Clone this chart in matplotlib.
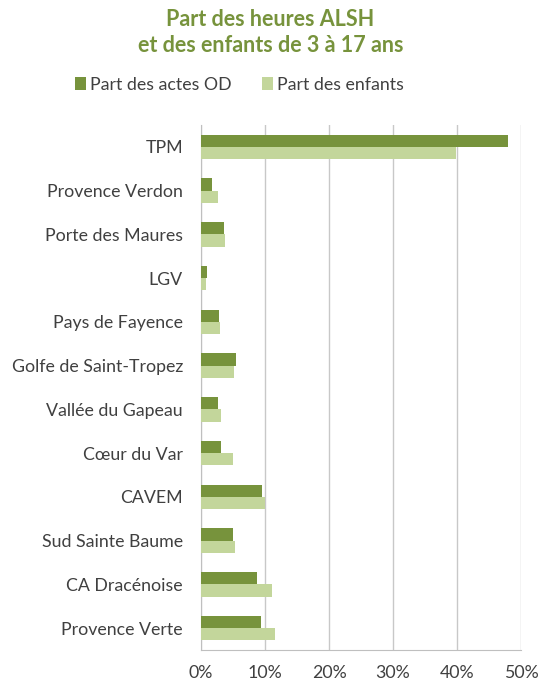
import matplotlib
matplotlib.use("Agg")
import matplotlib.pyplot as plt
import numpy as np

categories = ["TPM", "Provence Verdon", "Porte des Maures", "LGV", "Pays de Fayence",
              "Golfe de Saint-Tropez", "Vallée du Gapeau", "Cœur du Var", "CAVEM",
              "Sud Sainte Baume", "CA Dracénoise", "Provence Verte"]
part_actes = [47.9, 1.7, 3.6, 0.9, 2.8, 5.5, 2.6, 3.2, 9.5, 5.0, 8.75, 9.4]
part_enfants = [39.8, 2.6, 3.8, 0.8, 2.9, 5.1, 3.1, 5.0, 10.0, 5.3, 11.1, 11.5]
xticks = [0, 10, 20, 30, 40, 50]
xticklabels = ["0%", "10%", "20%", "30%", "40%", "50%"]

dark = "#77933C"
light = "#C3D69B"
txt = "#404040"
font = ["Lato", "DejaVu Sans"]
plt.rcParams['font.family'] = font

fig = plt.figure(figsize=(5.41, 6.85), dpi=100)
ax = fig.add_axes([201/541, 1-650/685, 320/541, 525/685])

y = np.arange(len(categories))
h = 0.28
ax.barh(y - h/2, part_actes, height=h, color=dark, label="Part des actes OD", zorder=3)
ax.barh(y + h/2, part_enfants, height=h, color=light, label="Part des enfants", zorder=3)

ax.set_ylim(len(categories) - 0.5, -0.5)
ax.set_xlim(0, 50)
ax.set_xticks(xticks)
ax.set_xticklabels(xticklabels)
ax.set_yticks(y)
ax.set_yticklabels(categories)
ax.tick_params(axis='both', length=0, labelsize=12.8, colors=txt)
ax.tick_params(axis='y', pad=13)
ax.tick_params(axis='x', pad=11)
ax.grid(axis='x', color="#C8C8C8", linewidth=1, zorder=0)
for s in ["top", "right"]:
    ax.spines[s].set_visible(False)
ax.spines["left"].set_color("#BFBFBF")
ax.spines["bottom"].set_color("#BFBFBF")

fig.text(0.5, 1-19/685, "Part des heures ALSH", ha="center", va="center",
         fontsize=15.5, fontweight="bold", color="#77933C")
fig.text(0.5, 1-46/685, "et des enfants de 3 à 17 ans", ha="center", va="center",
         fontsize=15.5, fontweight="bold", color="#77933C")

leg = fig.legend(loc="center", bbox_to_anchor=(0.443, 1-85/685), ncol=2, frameon=False,
                 fontsize=12.8, handlelength=0.6, handleheight=0.75, handletextpad=0.25,
                 columnspacing=1.7)
for t in leg.get_texts():
    t.set_color(txt)

fig.savefig("out.png", dpi=100)
